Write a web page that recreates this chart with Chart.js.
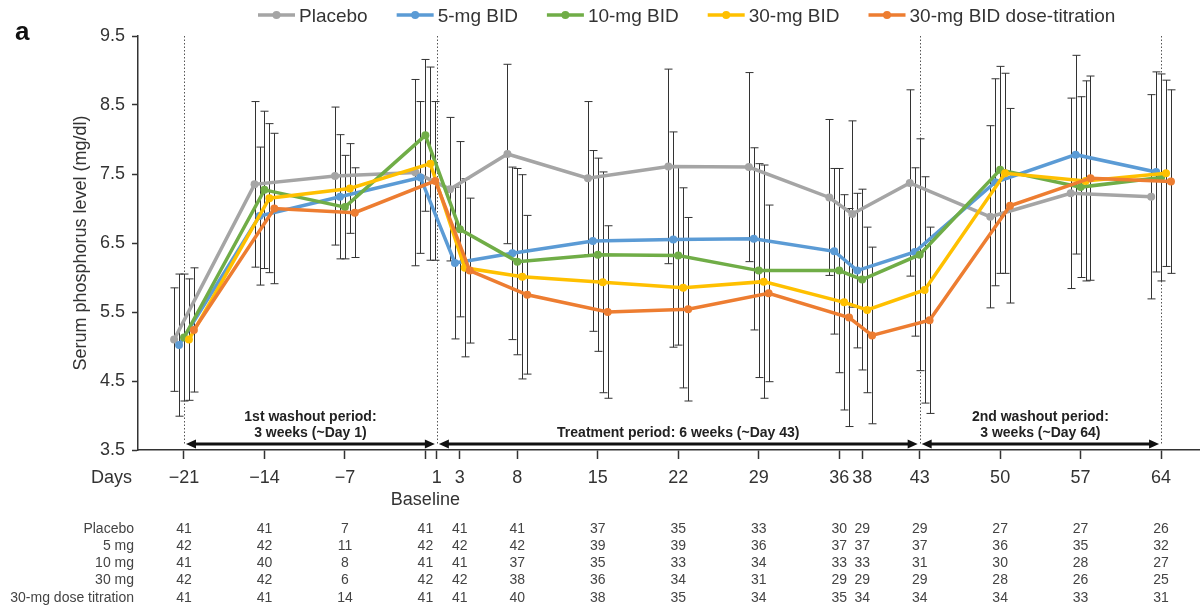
<!DOCTYPE html>
<html>
<head>
<meta charset="utf-8">
<script src="https://cdn.jsdelivr.net/npm/chart.js@4.4.1/dist/chart.umd.min.js"></script>
<style>
  html, body { margin: 0; padding: 0; background: #fff; }
  #wrap { width: 1203px; height: 606px; }
</style>
</head>
<body>
<div id="wrap"><canvas id="chart" width="1203" height="606"></canvas></div>
<script>
const FONT = "'Liberation Sans', Arial, sans-serif";

// visit days (baseline plotted at day 0)
const days = [-21, -14, -7, 0, 3, 8, 15, 22, 29, 36, 38, 43, 50, 57, 64];
const xTicks = [-21, -14, -7, 0, 1, 3, 8, 15, 22, 29, 36, 38, 43, 50, 57, 64];
const xTickLabels = ["\u221221", "\u221214", "\u22127", "", "1", "3", "8", "15", "22", "29", "36", "38", "43", "50", "57", "64"];
const yTicks = [3.5, 4.5, 5.5, 6.5, 7.5, 8.5, 9.5];

const seriesNames = ["Placebo", "5-mg BID", "10-mg BID", "30-mg BID", "30-mg BID dose-titration"];
const seriesColors = ["#a5a5a5", "#5b9bd5", "#70ad47", "#ffc000", "#ed7d31"];

// mean serum phosphorus (mg/dl)
const placeboMean = [5.10, 7.35, 7.47, 7.52, 7.28, 7.79, 7.44, 7.61, 7.60, 7.16, 6.92, 7.37, 6.88, 7.22, 7.17];
const bid5Mean = [5.02, 6.89, 7.17, 7.45, 6.21, 6.35, 6.53, 6.55, 6.56, 6.38, 6.10, 6.37, 7.38, 7.78, 7.53];
const bid10Mean = [5.13, 7.27, 7.02, 8.06, 6.70, 6.23, 6.33, 6.32, 6.10, 6.10, 5.97, 6.33, 7.56, 7.31, 7.45];
const bid30Mean = [5.10, 7.15, 7.29, 7.65, 6.14, 6.01, 5.93, 5.85, 5.94, 5.64, 5.53, 5.82, 7.51, 7.40, 7.51];
const titrationMean = [5.24, 7.00, 6.94, 7.40, 6.10, 5.75, 5.50, 5.54, 5.77, 5.42, 5.16, 5.38, 7.04, 7.44, 7.39];

// standard deviations (error bars)
const placeboSd = [0.75, 1.20, 1.00, 1.35, 1.04, 1.30, 1.11, 1.41, 1.37, 1.13, 1.35, 1.35, 1.32, 1.38, 1.48];
const bid5Sd = [1.03, 1.00, 0.90, 1.10, 1.10, 1.25, 1.31, 1.56, 1.32, 1.20, 1.12, 1.22, 1.50, 1.44, 1.45];
const bid10Sd = [0.92, 1.14, 0.75, 1.10, 1.27, 1.35, 1.40, 1.30, 1.55, 1.48, 1.31, 1.68, 1.50, 1.31, 1.50];
const bid30Sd = [0.88, 1.08, 0.65, 1.40, 1.29, 1.48, 1.60, 1.45, 1.69, 1.56, 1.20, 1.64, 1.45, 1.45, 1.35];
const titrationSd = [0.90, 1.09, 0.65, 1.15, 1.05, 1.15, 1.25, 1.33, 1.28, 1.58, 1.28, 1.35, 1.41, 1.48, 1.33];

// number of patients per visit
const tableLabels = ["Placebo", "5 mg", "10 mg", "30 mg", "30-mg dose titration"];
const nPlacebo = [41, 41, 7, 41, 41, 41, 37, 35, 33, 30, 29, 29, 27, 27, 26];
const n5mg = [42, 42, 11, 42, 42, 42, 39, 39, 36, 37, 37, 37, 36, 35, 32];
const n10mg = [41, 40, 8, 41, 41, 37, 35, 33, 34, 33, 33, 31, 30, 28, 27];
const n30mg = [42, 42, 6, 42, 42, 38, 36, 34, 31, 29, 29, 29, 28, 26, 25];
const nTitration = [41, 41, 14, 41, 41, 40, 38, 35, 34, 35, 34, 34, 34, 33, 31];

const periodBounds = [-21, 1, 43, 64];
const periodLabels = [
  ["1st washout period:", "3 weeks (~Day 1)"],
  ["Treatment period: 6 weeks (~Day 43)"],
  ["2nd washout period:", "3 weeks (~Day 64)"],
];

const means = [placeboMean, bid5Mean, bid10Mean, bid30Mean, titrationMean];
const sds = [placeboSd, bid5Sd, bid10Sd, bid30Sd, titrationSd];
const counts = [nPlacebo, n5mg, n10mg, n30mg, nTitration];
const dodge = 0.43; // horizontal shift between groups, in days

const errorBars = {
  id: "errorBars",
  beforeDatasetsDraw(chart) {
    const { ctx, scales: { x, y }, chartArea } = chart;
    ctx.save();

    // dotted period boundaries
    ctx.strokeStyle = "#555";
    ctx.lineWidth = 1;
    ctx.setLineDash([1.5, 2]);
    periodBounds.forEach((d) => {
      const px = Math.round(x.getPixelForValue(d)) + 0.5;
      ctx.beginPath();
      ctx.moveTo(px, chartArea.top);
      ctx.lineTo(px, 444);
      ctx.stroke();
    });
    ctx.setLineDash([]);

    ctx.strokeStyle = "#333";
    chart.data.datasets.forEach((ds, i) => {
      ds.data.forEach((p, j) => {
        const px = Math.round(x.getPixelForValue(p.x)) + 0.5;
        const top = y.getPixelForValue(p.y + sds[i][j]);
        const bot = y.getPixelForValue(p.y - sds[i][j]);
        ctx.beginPath();
        ctx.moveTo(px, top);
        ctx.lineTo(px, bot);
        ctx.moveTo(px - 4, top);
        ctx.lineTo(px + 4, top);
        ctx.moveTo(px - 4, bot);
        ctx.lineTo(px + 4, bot);
        ctx.stroke();
      });
    });
    ctx.restore();
  },
};

const decorations = {
  id: "decorations",
  afterDraw(chart) {
    const { ctx, scales: { x }, chartArea } = chart;
    ctx.save();

    // panel letter
    ctx.fillStyle = "#111";
    ctx.font = "bold 26px " + FONT;
    ctx.textAlign = "left";
    ctx.textBaseline = "alphabetic";
    ctx.fillText("a", 15, 40);

    // legend
    ctx.font = "19px " + FONT;
    ctx.textBaseline = "middle";
    let lx = 258;
    seriesNames.forEach((name, i) => {
      ctx.strokeStyle = seriesColors[i];
      ctx.fillStyle = seriesColors[i];
      ctx.lineWidth = 3.5;
      ctx.beginPath();
      ctx.moveTo(lx, 15);
      ctx.lineTo(lx + 37, 15);
      ctx.stroke();
      ctx.beginPath();
      ctx.arc(lx + 18.5, 15, 4, 0, Math.PI * 2);
      ctx.fill();
      lx += 41;
      ctx.fillStyle = "#333";
      ctx.fillText(name, lx, 17);
      lx += ctx.measureText(name).width + 29;
    });

    // y axis title
    ctx.save();
    ctx.translate(81, (chartArea.top + chartArea.bottom) / 2);
    ctx.rotate(-Math.PI / 2);
    ctx.textAlign = "center";
    ctx.fillStyle = "#333";
    ctx.font = "18px " + FONT;
    ctx.fillText("Serum phosphorus level (mg/dl)", 0, 0);
    ctx.restore();

    // Days / Baseline
    ctx.fillStyle = "#333";
    ctx.font = "18px " + FONT;
    ctx.textAlign = "right";
    ctx.fillText("Days", 132, 478);
    ctx.textAlign = "center";
    ctx.fillText("Baseline", x.getPixelForValue(0), 500);

    // period arrows
    ctx.strokeStyle = "#111";
    ctx.fillStyle = "#111";
    ctx.lineWidth = 3;
    const ay = 444;
    for (let k = 0; k < periodBounds.length - 1; k++) {
      const x1 = x.getPixelForValue(periodBounds[k]) + 2;
      const x2 = x.getPixelForValue(periodBounds[k + 1]) - 2;
      ctx.beginPath();
      ctx.moveTo(x1 + 6, ay);
      ctx.lineTo(x2 - 6, ay);
      ctx.stroke();
      ctx.beginPath();
      ctx.moveTo(x1, ay);
      ctx.lineTo(x1 + 10, ay - 4.5);
      ctx.lineTo(x1 + 10, ay + 4.5);
      ctx.closePath();
      ctx.moveTo(x2, ay);
      ctx.lineTo(x2 - 10, ay - 4.5);
      ctx.lineTo(x2 - 10, ay + 4.5);
      ctx.closePath();
      ctx.fill();

      const cx = (x.getPixelForValue(periodBounds[k]) + x.getPixelForValue(periodBounds[k + 1])) / 2;
      ctx.font = "bold 14px " + FONT;
      ctx.fillStyle = "#222";
      const lines = periodLabels[k];
      lines.forEach((t, m) => {
        ctx.fillText(t, cx, 433 - (lines.length - 1 - m) * 16);
      });
      ctx.fillStyle = "#111";
    }

    // patient count table
    ctx.font = "14px " + FONT;
    ctx.fillStyle = "#444";
    tableLabels.forEach((lab, r) => {
      const ty = 529 + r * 17.2;
      ctx.textAlign = "right";
      ctx.fillText(lab, 134, ty);
      ctx.textAlign = "center";
      counts[r].forEach((n, j) => {
        ctx.fillText(String(n), x.getPixelForValue(days[j]), ty);
      });
    });

    ctx.restore();
  },
};

const ctx = document.getElementById("chart").getContext("2d");

new Chart(ctx, {
  type: "line",
  data: {
    datasets: seriesNames.map((name, i) => ({
      label: name,
      data: days.map((d, j) => ({ x: d + (i - 2) * dodge, y: means[i][j] })),
      borderColor: seriesColors[i],
      backgroundColor: seriesColors[i],
      borderWidth: 3.5,
      pointRadius: 4,
      pointHoverRadius: 4,
      pointBorderWidth: 0,
      tension: 0,
      order: seriesNames.length - i,
    })),
  },
  options: {
    responsive: false,
    animation: false,
    layout: { padding: { top: 36, left: 0, right: 0, bottom: 0 } },
    plugins: { legend: { display: false }, tooltip: { enabled: false } },
    scales: {
      x: {
        type: "linear",
        min: -25,
        max: 67.3,
        afterBuildTicks: (s) => { s.ticks = xTicks.map((v) => ({ value: v })); },
        afterFit: (s) => { s.height = 156; },
        ticks: {
          autoSkip: false,
          maxRotation: 0,
          padding: 8,
          color: "#333",
          font: { family: FONT, size: 18 },
          callback: (v, idx) => xTickLabels[idx],
        },
        grid: { drawOnChartArea: false, drawTicks: true, tickLength: 9, tickColor: "#333", tickWidth: 1.5 },
        border: { color: "#333", width: 1.5 },
      },
      y: {
        min: 3.5,
        max: 9.5,
        afterBuildTicks: (s) => { s.ticks = yTicks.map((v) => ({ value: v })); },
        afterFit: (s) => { s.width = 138; },
        ticks: {
          padding: 7,
          color: "#333",
          font: { family: FONT, size: 18 },
          callback: (v) => v.toFixed(1),
        },
        grid: { drawOnChartArea: false, drawTicks: true, tickLength: 6, tickColor: "#333", tickWidth: 1.5 },
        border: { color: "#333", width: 1.5 },
      },
    },
  },
  plugins: [errorBars, decorations],
});
</script>
</body>
</html>
